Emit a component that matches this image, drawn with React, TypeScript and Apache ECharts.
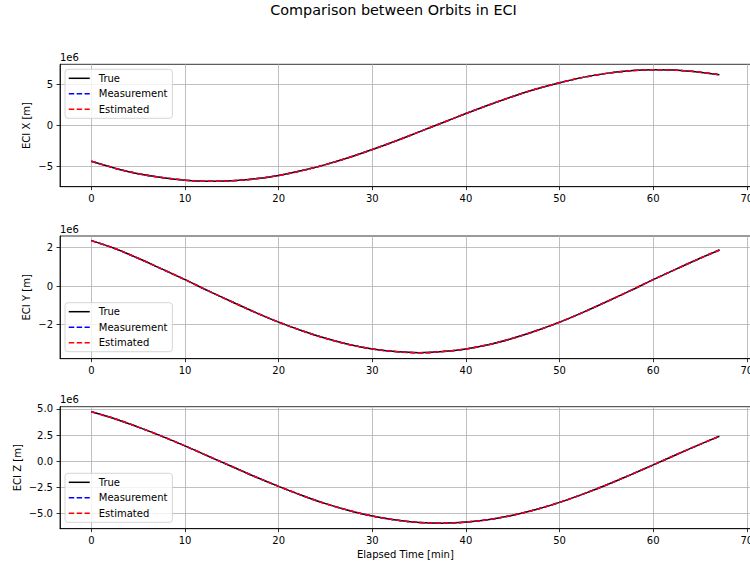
import { useEffect, useRef } from "react";
import * as echarts from "echarts";

// Elapsed time [min]
const timeMin = [0, 2.5, 5, 7.5, 10, 12.5, 15, 17.5, 20, 22.5, 25, 27.5, 30, 32.5, 35, 37.5, 40, 42.5, 45, 47.5, 50, 52.5, 55, 57.5, 60, 62.5, 65, 67.07];
// ECI position, in units of 1e6 m
const eciX = [-4.38, -5.22, -5.9, -6.35, -6.69, -6.83, -6.77, -6.53, -6.11, -5.52, -4.79, -3.92, -2.94, -1.89, -0.78, 0.34, 1.46, 2.54, 3.55, 4.46, 5.23, 5.89, 6.38, 6.69, 6.82, 6.77, 6.52, 6.2];
const eciY = [2.37, 1.96, 1.45, 0.9, 0.34, -0.245, -0.81, -1.36, -1.87, -2.32, -2.71, -3.03, -3.26, -3.4, -3.46, -3.4, -3.26, -3.03, -2.71, -2.32, -1.87, -1.36, -0.81, -0.245, 0.34, 0.9, 1.45, 1.88];
const eciZ = [4.73, 4.06, 3.26, 2.4, 1.46, 0.47, -0.51, -1.49, -2.41, -3.28, -4.06, -4.71, -5.25, -5.63, -5.86, -5.93, -5.83, -5.58, -5.17, -4.62, -3.94, -3.15, -2.28, -1.33, -0.36, 0.64, 1.61, 2.38];

const xTicks = [0, 10, 20, 30, 40, 50, 60, 70];
const yTicksX = [-5, 0, 5];
const yTicksY = [-2, 0, 2];
const yTicksZ = [-5, -2.5, 0, 2.5, 5];
const seriesNames = ["True", "Measurement", "Estimated"];
const panelLabels = ["ECI X [m]", "ECI Y [m]", "ECI Z [m]"];
const titleText = "Comparison between Orbits in ECI";
const xTitle = "Elapsed Time [min]";
const offsetText = "1e6";

const FONT = "DejaVu Sans";

export default function App() {
  const ref = useRef<HTMLDivElement>(null);
  useEffect(() => {
    const chart = echarts.init(ref.current!, null, { renderer: "svg" });

    const minus = (s: string) => s.replace("-", "\u2212");
    const fmtInt = (v: number) => minus(String(Math.round(v * 1000) / 1000));
    const fmt1 = (v: number) => minus(v.toFixed(1));

    const grids = [
      { left: 60, top: 64.3, width: 690.8, height: 122.4 },
      { left: 60, top: 236, width: 690.8, height: 122.7 },
      { left: 60, top: 406.7, width: 690.8, height: 122 },
    ].map((g) => ({
      ...g,
      show: true,
      borderColor: "#000",
      borderWidth: 0.8,
      backgroundColor: "transparent",
      containLabel: false,
      outerBoundsMode: "none",
    }));

    const yRanges = [
      [-7.49, 7.49],
      [-3.77, 2.61],
      [-6.46, 5.21],
    ];
    const yTicks = [yTicksX, yTicksY, yTicksZ];
    const yFmt = [fmtInt, fmtInt, fmt1];
    const ySplit = [3, 3, 5];
    const yNameGap = [28.5, 28.5, 38];
    const dataSets = [eciX, eciY, eciZ];
    const legendTops = [69.3, 302.7, 473.3];

    const xAxes = [0, 1, 2].map((i) => ({
      type: "value",
      gridIndex: i,
      min: -3.35,
      max: 70.42,
      axisLine: { show: true, onZero: false, lineStyle: { color: "#000", width: 0.8 } },
      axisTick: { show: true, customValues: xTicks, length: 3.5, lineStyle: { color: "#000", width: 0.8 } },
      axisLabel: { customValues: xTicks, margin: 7, color: "#000", fontSize: 10, fontFamily: FONT, formatter: fmtInt },
      splitLine: { show: true, lineStyle: { color: "#b0b0b0", width: 0.8 } },
      name: i === 2 ? xTitle : "",
      nameLocation: "middle",
      nameGap: 21,
      nameMoveOverlap: false,
      nameTextStyle: { color: "#000", fontSize: 10, fontFamily: FONT },
    }));

    const yAxes = [0, 1, 2].map((i) => ({
      type: "value",
      gridIndex: i,
      min: yRanges[i][0],
      max: yRanges[i][1],
      splitNumber: ySplit[i],
      axisLine: { show: true, onZero: false, lineStyle: { color: "#000", width: 0.8 } },
      axisTick: { show: true, customValues: yTicks[i], length: 3.5, lineStyle: { color: "#000", width: 0.8 } },
      axisLabel: { customValues: yTicks[i], margin: 7, color: "#000", fontSize: 10, fontFamily: FONT, formatter: yFmt[i] },
      splitLine: { show: true, lineStyle: { color: "#b0b0b0", width: 0.8 } },
      name: panelLabels[i],
      nameLocation: "middle",
      nameGap: yNameGap[i],
      nameMoveOverlap: false,
      nameTextStyle: { color: "#000", fontSize: 10, fontFamily: FONT },
    }));

    const styles = [
      { color: "#000000", type: "solid" as any },
      { color: "#0000ff", type: [5.5, 2.4] as any },
      { color: "#ff0000", type: [5.5, 2.4] as any },
    ];

    const series: any[] = [];
    for (let p = 0; p < 3; p++) {
      const pts = timeMin.map((t, k) => [t, dataSets[p][k]]);
      for (let s = 0; s < 3; s++) {
        series.push({
          type: "line",
          name: seriesNames[s],
          xAxisIndex: p,
          yAxisIndex: p,
          data: pts,
          symbol: "none",
          showSymbol: false,
          smooth: 0.35,
          color: styles[s].color,
          lineStyle: { color: styles[s].color, width: 1.5, type: styles[s].type },
          emphasis: { disabled: true },
        });
      }
    }

    const legends = legendTops.map((top) => ({
      orient: "vertical",
      left: 65,
      top,
      data: seriesNames,
      itemWidth: 21,
      itemHeight: 10,
      itemGap: 5.5,
      padding: [4, 5, 4, 3],
      backgroundColor: "rgba(255,255,255,0.8)",
      borderColor: "#cccccc",
      borderWidth: 0.8,
      borderRadius: 3,
      selectedMode: false,
      itemStyle: { opacity: 0, borderWidth: 0 },
      lineStyle: { opacity: 1, width: 1.5 },
      textStyle: { color: "#000", fontSize: 10, fontFamily: FONT, padding: [0, 0, 0, 4] },
    }));

    const offsetTops = [57.5, 229.2, 399.9];
    const graphic: any[] = [
      {
        type: "text",
        x: 393.5,
        y: 10,
        style: { text: titleText, fontSize: 14.4, fontFamily: FONT, fill: "#000", align: "center", verticalAlign: "middle" },
      },
      ...offsetTops.map((y) => ({
        type: "text",
        x: 60,
        y,
        style: { text: offsetText, fontSize: 10, fontFamily: FONT, fill: "#000", align: "left", verticalAlign: "middle" },
      })),
    ];

    chart.setOption({
      animation: false,
      backgroundColor: "#ffffff",
      textStyle: { fontFamily: FONT },
      grid: grids,
      xAxis: xAxes,
      yAxis: yAxes,
      legend: legends,
      series,
      graphic,
    });
    return () => chart.dispose();
  }, []);
  return <div ref={ref} style={{ position: "absolute", left: 0, top: 0, width: 750, height: 565 }} />;
}
